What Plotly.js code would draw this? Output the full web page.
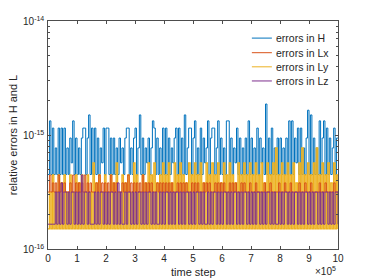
<!DOCTYPE html>
<html>
<head>
<meta charset="utf-8">
<script src="https://cdn.plot.ly/plotly-3.0.1.min.js"></script>
<style>html,body{margin:0;padding:0;background:#fff;}#chart{width:374px;height:280px;}</style>
</head>
<body>
<div id="chart"></div>
<script>
// Values, in units of 1e-16 (relative error), one sample every STEP time steps.
const UNIT = 1e-16;
const STEP = 5000;

const errH = [
  4.5,13.3,4.5,11.5,4.5,7.7,4.5,11.5,4.5,11.5,4.5,11.5,4.5,7.7,4.5,9.4,5.7,13.3,4.5,9.4,
  4.5,7.7,4.5,9.4,11.5,11.5,4.5,9.4,15,4.5,11.5,4.5,11.5,4.5,9.4,4.5,7.7,5.7,11.5,4.5,
  11.5,11.5,4.5,9.4,4.5,9.4,4.5,7.7,4.5,9.4,5.7,7.7,4.5,9.4,11.5,11.5,4.5,7.7,4.5,9.4,
  11.5,4.5,7.7,15,4.5,9.4,4.5,7.7,5.7,9.4,4.5,7.7,13.3,11.5,4.5,9.4,4.5,7.7,4.5,11.5,
  4.5,11.5,4.5,9.4,4.5,7.7,5.7,9.4,11.5,4.5,11.5,4.5,9.4,4.5,15,4.5,7.7,11.5,11.5,4.5,
  9.4,13.3,4.5,7.7,4.5,11.5,4.5,9.4,5.7,7.7,13.3,4.5,9.4,11.5,11.5,4.5,7.7,13.3,4.5,9.4,
  4.5,7.7,4.5,13.3,13.3,4.5,9.4,4.5,7.7,5.7,11.5,4.5,9.4,4.5,7.7,4.5,9.4,4.5,13.3,4.5,
  9.4,4.5,7.7,4.5,11.5,4.5,9.4,5.7,7.7,4.5,18.7,4.5,9.4,4.5,11.5,4.5,7.7,4.5,9.4,4.5,
  9.4,4.5,7.7,4.5,9.4,4.5,13.3,4.5,13.3,4.5,9.4,5.7,11.5,4.5,11.5,4.5,7.7,4.5,9.4,16.5,
  4.5,15,4.5,9.4,4.5,7.7,4.5,13.3,4.5,9.4,13.3,4.5,11.5,4.5,9.4,4.5,7.7,11.5,4.5,9.4,9.4
];

const errLx = [
  3.16,4.46,3.16,3.8,3.16,3.8,3.16,4.46,3.16,3.8,3.16,3.8,3.16,3.16,3.16,3.8,3.16,4.46,3.16,3.8,
  3.16,3.8,3.16,3.8,3.16,4.46,3.16,3.8,3.16,3.8,3.16,3.16,3.16,3.8,3.16,4.46,3.16,3.8,3.16,3.8,
  3.16,3.8,3.16,4.46,3.16,3.8,3.16,3.8,3.16,3.16,3.16,3.8,3.16,3.8,3.16,4.46,3.16,3.8,3.16,3.8,
  3.16,3.8,3.16,3.8,3.16,4.46,3.16,3.8,3.16,3.8,3.16,3.8,3.16,3.16,3.16,3.8,3.16,3.8,3.16,3.8,
  3.16,3.8,3.16,3.8,3.16,3.8,3.16,3.16,3.16,3.8,3.16,3.8,3.16,3.8,3.16,3.8,3.16,3.16,3.16,3.8,
  3.16,3.8,3.16,3.8,3.16,3.16,3.16,3.8,3.16,3.8,3.16,3.8,3.16,3.16,3.16,3.8,3.16,3.8,3.16,3.8,
  3.16,3.8,3.16,3.16,3.16,3.8,3.16,3.8,3.16,3.8,3.16,3.16,3.16,3.8,3.16,3.8,3.16,3.16,3.16,3.8,
  3.16,3.16,3.16,3.8,3.16,3.16,3.16,3.16,3.16,3.8,3.16,3.16,3.16,3.8,3.16,3.16,3.16,3.16,3.16,3.8,
  3.16,3.16,3.16,3.8,3.16,3.16,3.16,3.8,3.16,3.16,3.16,3.16,3.16,3.8,3.16,3.16,3.16,3.8,3.16,3.16,
  3.16,3.8,3.16,3.16,3.16,3.16,3.16,3.8,3.16,3.16,3.16,3.8,3.16,3.16,3.16,3.16,3.16,3.8,3.16,3.16,3.16
];

const errLy = [
  1.5,3.16,1.5,4.46,1.5,3.16,1.5,4.46,1.5,3.8,1.5,4.46,1.5,3.16,1.5,4.46,1.5,3.16,1.5,4.46,
  1.5,3.8,1.5,4.46,1.5,3.16,1.5,4.46,1.5,3.16,1.5,5.7,1.5,3.8,1.5,4.46,1.5,3.16,1.5,4.46,
  1.5,3.16,1.5,4.46,1.5,3.8,1.5,5.7,1.5,3.16,1.5,4.46,1.5,3.8,1.5,4.46,1.5,3.16,1.5,5.7,
  1.5,4.46,1.5,3.16,1.5,4.46,1.5,3.8,1.5,5.7,1.5,4.46,1.5,5.7,1.5,3.8,1.5,4.46,1.5,5.7,
  1.5,4.46,1.5,5.7,1.5,3.8,1.5,5.7,1.5,4.46,1.5,5.7,1.5,4.46,1.5,3.8,1.5,5.7,1.5,4.46,
  1.5,5.7,1.5,4.46,1.5,5.7,1.5,3.8,1.5,5.7,1.5,4.46,1.5,5.7,1.5,4.46,1.5,5.7,1.5,3.8,
  1.5,5.7,1.5,4.46,1.5,5.7,1.5,4.46,1.5,3.8,1.5,5.7,1.5,4.46,1.5,5.7,1.5,4.46,1.5,5.7,
  1.5,4.46,1.5,5.7,1.5,4.46,1.5,5.7,1.5,3.8,1.5,5.7,1.5,4.46,1.5,5.7,1.5,7.7,1.5,4.46,
  1.5,5.7,1.5,4.46,1.5,5.7,1.5,4.46,1.5,5.7,1.5,3.8,1.5,5.7,1.5,7.7,1.5,4.46,1.5,5.7,
  1.5,4.46,1.5,5.7,1.5,7.7,1.5,4.46,1.5,5.7,1.5,4.46,1.5,5.7,1.5,3.8,1.5,5.7,1.5,4.46,1.5
];

const errLz = [
  1.65,1.65,1.65,1.65,1.65,3.16,1.65,3.16,1.65,3.8,1.65,3.16,3.16,1.65,3.16,1.65,3.16,3.16,1.65,3.16,
  1.65,3.16,1.65,4.46,1.65,3.16,3.16,1.65,3.16,1.65,1.65,1.65,3.16,1.65,3.16,1.65,3.16,3.16,1.65,3.16,
  1.65,3.16,1.65,3.16,3.16,1.65,3.16,1.65,3.8,1.65,3.16,1.65,1.65,3.16,1.65,3.16,3.16,1.65,3.16,1.65,
  3.16,1.65,3.16,3.16,1.65,3.16,1.65,3.16,1.65,3.16,3.16,1.65,3.16,1.65,3.16,1.65,1.65,3.16,1.65,3.16,
  1.65,3.16,3.16,1.65,3.16,1.65,3.16,1.65,3.16,3.16,1.65,3.16,1.65,3.16,1.65,3.16,3.16,1.65,3.16,1.65,
  3.16,1.65,3.16,3.16,1.65,3.16,1.65,3.16,1.65,1.65,3.16,1.65,3.16,1.65,3.16,3.16,1.65,3.16,1.65,3.16,
  1.65,3.16,3.16,1.65,3.16,1.65,3.16,1.65,3.16,3.16,1.65,3.16,1.65,3.16,1.65,3.16,3.16,1.65,3.16,1.65,
  3.16,1.65,3.16,1.65,3.16,3.16,1.65,3.16,1.65,3.16,1.65,3.16,3.16,1.65,3.16,1.65,3.16,1.65,1.65,3.16,
  1.65,3.16,1.65,3.16,3.16,1.65,3.16,1.65,3.16,1.65,3.16,3.16,1.65,3.16,1.65,3.16,1.65,3.16,3.16,1.65,
  3.16,1.65,3.16,1.65,3.16,3.16,1.65,3.16,1.65,3.16,1.65,3.16,3.16,1.65,3.16,1.65,3.16,1.65,3.16,3.16,1.65
];

const seriesNames = ['errors in H', 'errors in Lx', 'errors in Ly', 'errors in Lz'];
const xTickVals = [0,100000,200000,300000,400000,500000,600000,700000,800000,900000,1000000];
const xTickText = ['0','1','2','3','4','5','6','7','8','9','10'];
const yTickExp = [-16, -15, -14];
const yTickText = ['10<sup>-16</sup>', '10<sup>-15</sup>', '10<sup>-14</sup>'];

const colors = {H:'#0072BD', Lx:'#D95319', Ly:'#EDB120', Lz:'#7E2F8E'};
const steps = errH.map((_, i) => i * STEP);
const scale = arr => arr.map(v => v * UNIT);

function trace(vals, name, color, width) {
  return {
    type: 'scatter', mode: 'lines', x: steps, y: scale(vals), name: name,
    line: {color: color, width: width, simplify: false, shape: 'hv'}, hoverinfo: 'skip', showlegend: false
  };
}

// drawing order: H, Ly, Lx, Lz
const data = [
  trace(errH,  seriesNames[0], colors.H,  1),
  trace(errLy, seriesNames[2], colors.Ly, 1.3),
  trace(errLx, seriesNames[1], colors.Lx, 1),
  trace(errLz, seriesNames[3], colors.Lz, 1)
];

const axisColor = '#4d4d4d';
const txt = '#262626';
const fam = 'Liberation Sans, Arial, Helvetica, sans-serif';

// legend (line samples + text, MATLAB-like compact spacing)
const legendColors = [colors.H, colors.Lx, colors.Ly, colors.Lz];
const legendRowsY = [0.925, 0.861, 0.799, 0.737];
const legendShapes = seriesNames.map((n, k) => ({
  type: 'line', xref: 'paper', yref: 'paper', x0: 0.703, x1: 0.772,
  y0: legendRowsY[k], y1: legendRowsY[k], line: {color: legendColors[k], width: 1}
}));
const legendTexts = seriesNames.map((n, k) => ({
  text: n, xref: 'paper', yref: 'paper', x: 0.779, y: legendRowsY[k],
  xanchor: 'left', yanchor: 'middle', showarrow: false,
  font: {family: fam, size: 10.5, color: txt}
}));
// y tick labels placed just left of the axis
const yTickLabels = yTickExp.map((e, k) => ({
  text: yTickText[k], xref: 'paper', yref: 'y', x: -0.008, y: e,
  xanchor: 'right', yanchor: 'middle', showarrow: false,
  font: {family: fam, size: 10, color: txt}
}));

const layout = {
  width: 374, height: 280,
  margin: {l: 48, r: 36, t: 21, b: 31, pad: 0},
  paper_bgcolor: '#ffffff', plot_bgcolor: '#ffffff',
  font: {family: fam, size: 10, color: txt},
  showlegend: false,
  xaxis: {
    range: [0, 1000000], tickvals: xTickVals, ticktext: xTickText,
    ticks: 'inside', ticklen: 3, tickcolor: axisColor, mirror: 'ticks',
    showline: true, linecolor: axisColor, linewidth: 1,
    showgrid: false, zeroline: false, tickfont: {size: 10, color: txt}
  },
  yaxis: {
    type: 'log', range: [-16, -14], tickvals: yTickExp.map(e => Math.pow(10, e)),
    showticklabels: false,
    ticks: 'inside', ticklen: 3, tickcolor: axisColor, mirror: 'ticks',
    showline: true, linecolor: axisColor, linewidth: 1,
    showgrid: false, zeroline: false,
    minor: {ticks: 'inside', ticklen: 2, tickcolor: axisColor, dtick: 'D1', showgrid: false}
  },
  shapes: legendShapes,
  annotations: [
    {text: 'time step', xref: 'paper', yref: 'paper', x: 0.5, y: -0.1, xanchor: 'center', yanchor: 'middle',
     showarrow: false, font: {size: 11, color: txt}},
    {text: 'relative errors in H and L', xref: 'paper', yref: 'paper', x: -0.12, y: 0.5, textangle: -90,
     xanchor: 'center', yanchor: 'middle', showarrow: false, font: {size: 11, color: txt}},
    {text: '×10<sup>5</sup>', xref: 'paper', yref: 'paper', x: 1.0, y: -0.095, xanchor: 'right', yanchor: 'middle',
     showarrow: false, font: {size: 10, color: txt}}
  ].concat(legendTexts, yTickLabels)
};

Plotly.newPlot('chart', data, layout, {staticPlot: true, displayModeBar: false});
</script>
</body>
</html>
